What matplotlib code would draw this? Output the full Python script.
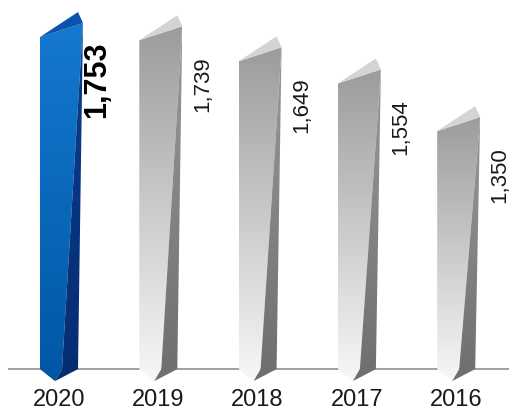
import numpy as np
import matplotlib
matplotlib.use("Agg")
import matplotlib.pyplot as plt
from matplotlib.patches import Polygon
from matplotlib.colors import LinearSegmentedColormap

years = ["2020", "2019", "2018", "2017", "2016"]
values = [1753, 1739, 1649, 1554, 1350]
labels = ["1,753", "1,739", "1,649", "1,554", "1,350"]

plt.rcParams['font.family'] = ['Liberation Sans', 'DejaVu Sans']

fig = plt.figure(figsize=(5.1, 4.1), dpi=100)
ax = fig.add_axes([0, 0, 1, 1])
ax.set_xlim(-0.594, 4.542)
ax.set_ylim(159, 1916)
ax.axis('off')

base = 330
px = 1 / 99.3          # x data units per pixel
py = 1 / 0.2333        # y data units per pixel

ax.plot([-0.5, 4.6], [base, base], color='#a0a0a0', lw=1.4, zorder=1)


def grad_poly(pts, c_top, c_bot, zorder):
    poly = Polygon(pts, closed=True, facecolor='none', edgecolor='none', zorder=zorder)
    ax.add_patch(poly)
    xs = [p[0] for p in pts]
    ys = [p[1] for p in pts]
    cmap = LinearSegmentedColormap.from_list('g', [c_bot, c_top])
    grad = np.linspace(0, 1, 256).reshape(-1, 1)
    im = ax.imshow(grad, cmap=cmap, origin='lower', aspect='auto',
                   extent=[min(xs), max(xs), min(ys), max(ys)], zorder=zorder,
                   interpolation='bilinear')
    im.set_clip_path(poly)


for i, (v, lab) in enumerate(zip(values, labels)):
    c = i
    L = c - 19 * px
    top = v
    tip = (c - 4 * px, base - 12 * py)
    topR = (c + 24 * px, top + 14 * py)
    peak = (c + 19 * px, top + 25 * py)
    dbot = (c + 3 * px, base)
    rbot = (c + 19 * px, base)
    if i == 0:
        main = ('#1479d0', '#0057a6')
        dark = ('#0a3d8e', '#062d72')
        facet = '#0b52aa'
    else:
        main = ('#9c9c9c', '#f7f7f7')
        dark = ('#9a9a9a', '#6e6e6e')
        facet = '#d4d4d4'
    grad_poly([(L, base), (L, top), topR, dbot, tip], main[0], main[1], 2)
    grad_poly([topR, rbot, tip, dbot], dark[0], dark[1], 3)
    ax.add_patch(Polygon([(L, top), peak, topR], closed=True, facecolor=facet,
                         edgecolor='none', zorder=4))

    if i == 0:
        ax.text(c + 38 * px, top - 3 * py, lab, rotation=90, ha='center', va='top',
                fontsize=22, fontweight='bold', color='black')
    else:
        ax.text(c + 44 * px, top - 15 * py, lab, rotation=90, ha='center', va='top',
                fontsize=16, color='#1a1a1a')

    ax.text(c, base - 30 * py, years[i], ha='center', va='center',
            fontsize=17, color='#1a1a1a')

plt.savefig('out.png', dpi=100)
